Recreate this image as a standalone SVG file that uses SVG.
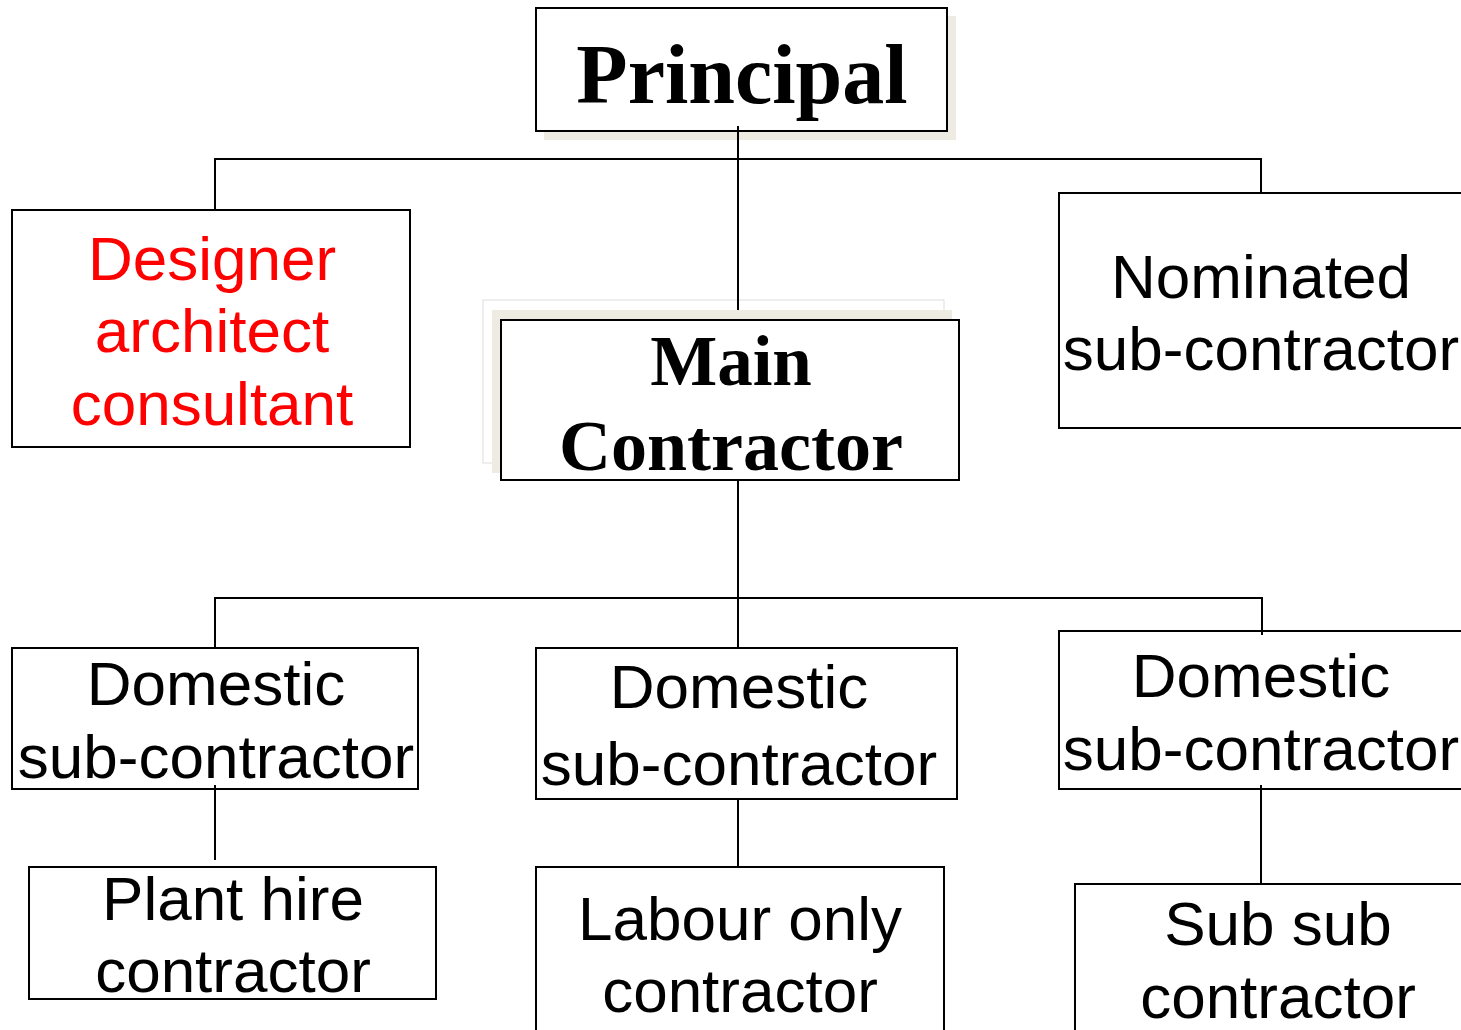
<svg xmlns="http://www.w3.org/2000/svg" width="1461" height="1030" viewBox="0 0 1461 1030">
<style>
.box{fill:#fff;stroke:#000;stroke-width:2}
.shadow{fill:#EEEBE2}
.sans{font-family:"Liberation Sans",Arial,sans-serif;font-size:62px;text-anchor:middle;fill:#000}
.serif{font-family:"Liberation Serif","Times New Roman",serif;font-weight:bold;text-anchor:middle;fill:#000}
.red{fill:#FF0000}
#connectors line{stroke:#000;stroke-width:2}
</style>
<rect width="1461" height="1030" fill="#fff"/>
<g id="principal">
<rect class="shadow" x="544" y="16" width="412" height="124"/>
<rect class="box" x="536" y="8" width="411" height="123"/>
<text class="serif" x="742" y="103" font-size="84">Principal</text>
</g>
<g id="designer">
<rect class="box" x="12" y="210" width="398" height="237"/>
<text class="sans red" x="212" y="280">Designer</text>
<text class="sans red" x="212" y="352">architect</text>
<text class="sans red" x="212" y="425">consultant</text>
</g>
<g id="main-contractor">
<rect x="483" y="300" width="461" height="163" fill="none" stroke="#ddd" stroke-width="1"/>
<rect class="shadow" x="492" y="310" width="460" height="163"/>
<rect class="box" x="501" y="320" width="458" height="160"/>
<text class="serif" x="731" y="385" font-size="71">Main</text>
<text class="serif" x="731" y="470" font-size="72">Contractor</text>
</g>
<g id="nominated">
<rect class="box" x="1059" y="193" width="410" height="235"/>
<text class="sans" x="1261" y="298">Nominated</text>
<text class="sans" x="1261" y="370">sub-contractor</text>
</g>
<g id="domestic-1">
<rect class="box" x="12" y="648" width="406" height="141"/>
<text class="sans" x="216" y="705">Domestic</text>
<text class="sans" x="216" y="778">sub-contractor</text>
</g>
<g id="domestic-2">
<rect class="box" x="536" y="648" width="421" height="151"/>
<text class="sans" x="739" y="708">Domestic</text>
<text class="sans" x="739" y="785">sub-contractor</text>
</g>
<g id="domestic-3">
<rect class="box" x="1059" y="631" width="410" height="158"/>
<text class="sans" x="1261" y="697">Domestic</text>
<text class="sans" x="1261" y="770">sub-contractor</text>
</g>
<g id="plant-hire">
<rect class="box" x="29" y="867" width="407" height="132"/>
<text class="sans" x="233" y="920">Plant hire</text>
<text class="sans" x="233" y="992">contractor</text>
</g>
<g id="labour-only">
<rect class="box" x="536" y="867" width="408" height="170"/>
<text class="sans" x="740" y="940">Labour only</text>
<text class="sans" x="740" y="1012">contractor</text>
</g>
<g id="sub-sub">
<rect class="box" x="1075" y="884" width="394" height="160"/>
<text class="sans" x="1278" y="945">Sub sub</text>
<text class="sans" x="1278" y="1018">contractor</text>
</g>
<g id="connectors">
<line x1="738" y1="126" x2="738" y2="310"/>
<line x1="215" y1="159" x2="1261" y2="159"/>
<line x1="215" y1="158" x2="215" y2="209"/>
<line x1="1261" y1="158" x2="1261" y2="192"/>
<line x1="738" y1="481" x2="738" y2="647"/>
<line x1="215" y1="598" x2="1263" y2="598"/>
<line x1="215" y1="597" x2="215" y2="647"/>
<line x1="1262" y1="597" x2="1262" y2="635"/>
<line x1="215" y1="785" x2="215" y2="860"/>
<line x1="738" y1="800" x2="738" y2="866"/>
<line x1="1261" y1="785" x2="1261" y2="883"/>
</g>
</svg>
